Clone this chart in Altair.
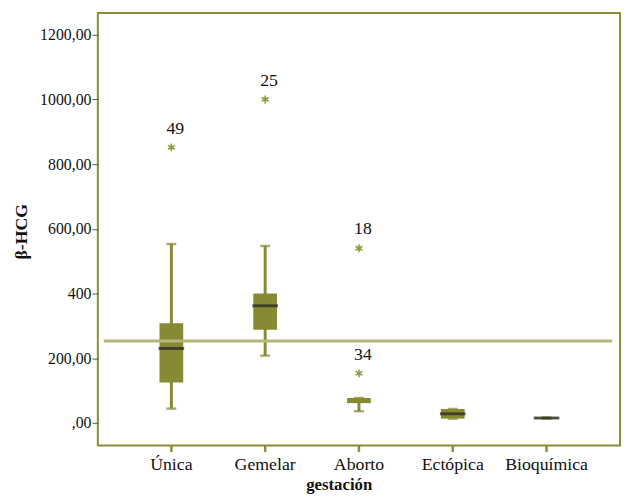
import altair as alt
import pandas as pd

categories = ["Única", "Gemelar", "Aborto", "Ectópica", "Bioquímica"]
q1 = [125, 288, 61, 13, 13]
median = [230, 362, None, 28, 15]
q3 = [308, 400, 77, 43, 17]
whisker_low = [44, 208, 36, 13, 13]
whisker_high = [553, 547, 77, 43, 17]

out_cat = ["Única", "Gemelar", "Aborto", "Aborto"]
out_val = [852, 1000, 540, 153]
out_lab = ["49", "25", "18", "34"]

ref_value = 253
y_ticks = [0, 200, 400, 600, 800, 1000, 1200]

OLIVE = "#878a33"
STAR = "#8e993d"
FRAME = "#8b8b3a"
REF = "#b4b67c"
FONT = "Liberation Serif"

box = pd.DataFrame({"cat": categories, "q1": q1, "median": median, "q3": q3,
                    "wl": whisker_low, "wh": whisker_high})
outl = pd.DataFrame({"cat": out_cat, "val": out_val, "lab": out_lab})
refdf = pd.DataFrame({"ref": [ref_value]})

xenc = alt.X("cat:N", sort=categories,
             scale=alt.Scale(type="band", paddingInner=0, paddingOuter=0.284),
             axis=alt.Axis(title="gestación", labelAngle=0, domain=False, grid=False,
                           tickColor=FRAME, tickSize=6, tickWidth=2.5,
                           labelFont=FONT, labelFontSize=18, labelColor="#111",
                           labelPadding=4,
                           titleFont=FONT, titleFontSize=17, titleFontWeight="bold",
                           titleColor="#111", titleX=244, titleY=45,
                           titleBaseline="alphabetic"))

yscale = alt.Scale(domain=[-70, 1267], nice=False, zero=False)
yaxis = alt.Axis(title="β-HCG", values=y_ticks, domain=False, grid=False,
                 labelExpr="datum.value == 400 ? '400' : (datum.value == 0 ? ',00' : format(datum.value, 'd') + ',00')",
                 tickColor="#555", tickSize=6, tickWidth=1,
                 labelFont=FONT, labelFontSize=16, labelColor="#111", labelPadding=1,
                 titleFont=FONT, titleFontSize=18, titleFontWeight="bold",
                 titleColor="#111", titleX=-77, titleY=221, titleAngle=270,
                 titleBaseline="middle", titleAlign="center")

base = alt.Chart(box)

whisk = base.mark_rule(color=OLIVE, strokeWidth=3).encode(
    x=xenc, y=alt.Y("wl:Q", scale=yscale, axis=yaxis), y2="wh:Q")
bars = base.mark_bar(size=24, color=OLIVE).encode(
    x=xenc, y=alt.Y("q1:Q", scale=yscale, axis=yaxis), y2="q3:Q")
cap_lo = base.mark_tick(size=10, thickness=2.5, color=OLIVE).encode(
    x=xenc, y=alt.Y("wl:Q", scale=yscale, axis=yaxis))
cap_hi = base.mark_tick(size=10, thickness=2.5, color=OLIVE).encode(
    x=xenc, y=alt.Y("wh:Q", scale=yscale, axis=yaxis))
ref = alt.Chart(refdf).mark_rule(color=REF, strokeWidth=3).encode(
    y=alt.Y("ref:Q", scale=yscale, axis=yaxis), x=alt.value(6), x2=alt.value(521))
med = base.transform_filter("isValid(datum.median)").mark_tick(
    size=26, thickness=3, color="#222").encode(
    x=xenc, y=alt.Y("median:Q", scale=yscale, axis=yaxis))

star_path = "M0,-1L0,1M-0.866,-0.5L0.866,0.5M-0.866,0.5L0.866,-0.5"
stars = alt.Chart(outl).mark_point(shape=star_path, size=64, filled=False,
                                    stroke=STAR, strokeWidth=1.6, opacity=1).encode(
    x=xenc, y=alt.Y("val:Q", scale=yscale, axis=yaxis))
labels = alt.Chart(outl).mark_text(font=FONT, fontSize=18, color="#111",
                                    dy=-19, dx=4, baseline="middle").encode(
    x=xenc, y=alt.Y("val:Q", scale=yscale, axis=yaxis), text="lab:N")

chart = alt.layer(whisk, bars, cap_lo, cap_hi, ref, med, stars, labels).properties(
    width=529, height=438,
    autosize=alt.AutoSizeParams(type="none"),
    padding={"left": 91, "top": 2, "right": 5, "bottom": 50},
).configure_view(stroke=FRAME, strokeWidth=2).configure_axis(
    labelFont=FONT, titleFont=FONT
).configure_text(font=FONT)

chart.save("out.html", embed_options={"renderer": "svg", "actions": False})
